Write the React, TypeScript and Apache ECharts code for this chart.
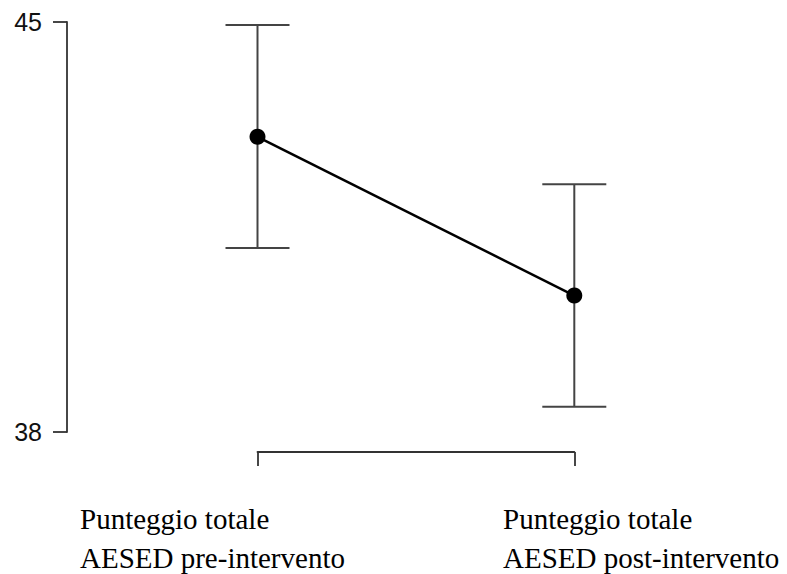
import React, { useEffect, useRef } from "react";
import * as echarts from "echarts";

const categoriesLine1 = ["Punteggio totale", "Punteggio totale"];
const categoriesLine2 = ["AESED pre-intervento", "AESED post-intervento"];
const xPositions = [1, 2];
const means = [43.04, 40.33];
const upper = [44.95, 42.23];
const lower = [41.14, 38.43];
const yTicks = [38, 45];

export default function App() {
  const ref = useRef<HTMLDivElement>(null);
  useEffect(() => {
    if (!ref.current) return;
    const chart = echarts.init(ref.current, null, { renderer: "svg" });
    const errData = xPositions.map((x, i) => [x, lower[i], upper[i]]);
    const lineData = xPositions.map((x, i) => [x, means[i]]);
    const labelX = [80, 503];
    const graphics: any[] = [];
    categoriesLine1.forEach((t, i) => {
      graphics.push({
        type: "text",
        x: labelX[i],
        y: 504,
        style: {
          text: t,
          font: '29px "Liberation Serif"',
          fill: "#000",
          align: "left",
          verticalAlign: "top",
        },
      });
      graphics.push({
        type: "text",
        x: labelX[i],
        y: 543,
        style: {
          text: categoriesLine2[i],
          font: '29px "Liberation Serif"',
          fill: "#000",
          align: "left",
          verticalAlign: "top",
        },
      });
    });
    chart.setOption({
      animation: false,
      backgroundColor: "#fff",
      grid: { left: 257.5, right: 212.7, top: 22, bottom: 142 },
      xAxis: {
        type: "value",
        min: 1,
        max: 2,
        interval: 1,
        offset: 20,
        axisLine: { show: true, lineStyle: { color: "#333", width: 1.8 } },
        axisTick: { show: true, length: 14, lineStyle: { color: "#333", width: 1.8 } },
        axisLabel: { show: false },
        splitLine: { show: false },
      },
      yAxis: {
        type: "value",
        min: yTicks[0],
        max: yTicks[1],
        interval: yTicks[1] - yTicks[0],
        offset: 190.5,
        axisLine: { show: true, lineStyle: { color: "#333", width: 1.8 } },
        axisTick: { show: true, length: 14, lineStyle: { color: "#333", width: 1.8 } },
        axisLabel: {
          show: true,
          margin: 25,
          fontFamily: "Liberation Sans",
          fontSize: 25,
          color: "#111",
        },
        splitLine: { show: false },
      },
      series: [
        {
          type: "custom",
          z: 1,
          clip: false,
          data: errData,
          renderItem: (params: any, api: any) => {
            const x = api.value(0);
            const lo = api.coord([x, api.value(1)]);
            const hi = api.coord([x, api.value(2)]);
            const hw = 32;
            const style = { stroke: "#444", lineWidth: 2 };
            return {
              type: "group",
              children: [
                { type: "line", shape: { x1: lo[0], y1: lo[1], x2: hi[0], y2: hi[1] }, style },
                { type: "line", shape: { x1: hi[0] - hw, y1: hi[1], x2: hi[0] + hw, y2: hi[1] }, style },
                { type: "line", shape: { x1: lo[0] - hw, y1: lo[1], x2: lo[0] + hw, y2: lo[1] }, style },
              ],
            };
          },
        },
        {
          type: "line",
          z: 3,
          data: lineData,
          symbol: "circle",
          symbolSize: 16,
          itemStyle: { color: "#000" },
          lineStyle: { color: "#000", width: 2.5 },
        },
      ],
      graphic: graphics,
    });
    return () => chart.dispose();
  }, []);
  return (
    <div
      ref={ref}
      style={{ position: "absolute", left: 0, top: 0, width: 787, height: 574 }}
    />
  );
}
